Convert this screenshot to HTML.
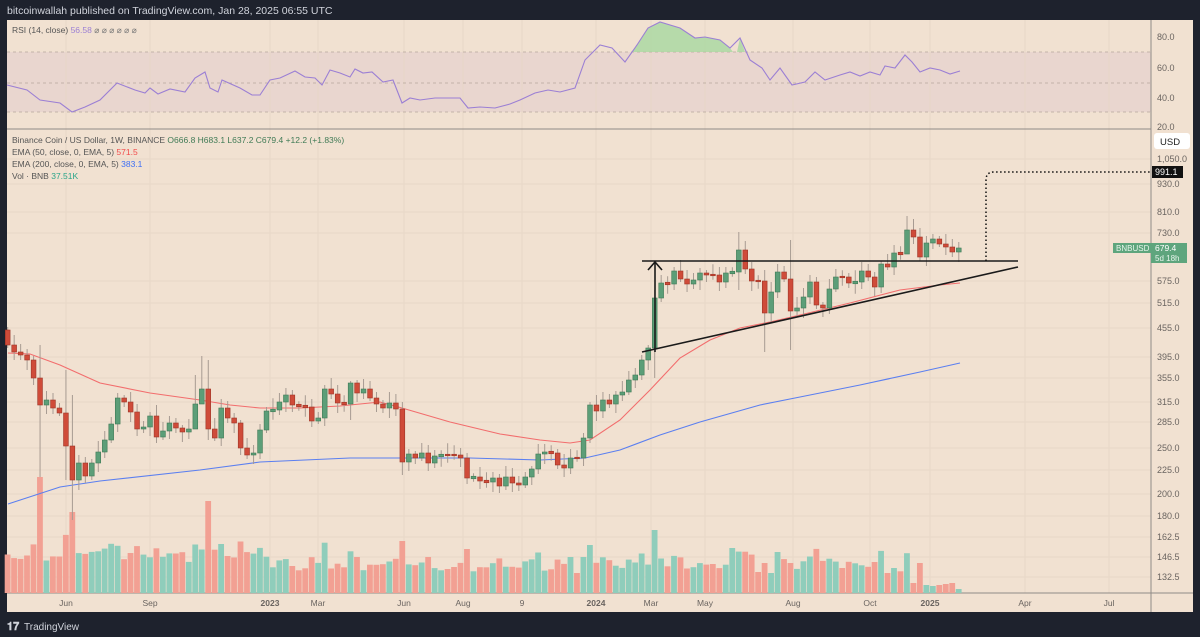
<!DOCTYPE html>
<html><head><meta charset="utf-8"><style>
body{margin:0;background:#1e222d;width:1200px;height:637px;overflow:hidden;font-family:"Liberation Sans",sans-serif}
svg{position:absolute;left:0;top:0}
</style></head><body>
<svg id="s" width="1200" height="637" xmlns="http://www.w3.org/2000/svg" font-family="Liberation Sans, sans-serif">
<rect x="0" y="0" width="1200" height="637" fill="#1e222d"/>
<text x="7" y="14" fill="#d1d4dc" font-size="10.5">bitcoinwallah published on TradingView.com, Jan 28, 2025 06:55 UTC</text>
<rect x="7" y="20" width="1186" height="592" fill="#f1e1d1"/>
<rect x="7" y="52" width="1144" height="60" fill="#e9d6cf"/>
<g id="grid" stroke="#e8d7c7" stroke-width="1"></g>
<g stroke="#b5a79c" stroke-dasharray="3,3" stroke-width="0.8">
<line x1="7" y1="52" x2="1151" y2="52"/><line x1="7" y1="83" x2="1151" y2="83"/><line x1="7" y1="112" x2="1151" y2="112"/></g>
<path id="rsifill" fill="#a8d8a0" opacity="0.8"/>
<polyline id="rsi" fill="none" stroke="#9b7fd4" stroke-width="1.1"/>
<line x1="7" y1="129" x2="1151" y2="129" stroke="#8f8a86" stroke-width="1"/>
<line x1="1151" y1="20" x2="1151" y2="612" stroke="#8f8a86" stroke-width="1"/>
<line x1="7" y1="593" x2="1193" y2="593" stroke="#8f8a86" stroke-width="1"/>
<text x="12" y="33" font-size="8.5" fill="#555">RSI (14, close) <tspan fill="#9b7fd4">56.58</tspan> <tspan fill="#777">⌀ ⌀ ⌀ ⌀ ⌀ ⌀</tspan></text>
<g font-size="8.5" fill="#555">
<text x="12" y="143">Binance Coin / US Dollar, 1W, BINANCE <tspan fill="#3f7a55">O666.8 H683.1 L637.2 C679.4 +12.2 (+1.83%)</tspan></text>
<text x="12" y="155">EMA (50, close, 0, EMA, 5) <tspan fill="#f24b4b">571.5</tspan></text>
<text x="12" y="167">EMA (200, close, 0, EMA, 5) <tspan fill="#3d6ef5">383.1</tspan></text>
<text x="12" y="179">Vol · BNB <tspan fill="#2aa58a">37.51K</tspan></text>
</g>
<g id="vol"></g>
<polyline fill="none" stroke="#f26d6d" stroke-width="1.1" points="8,353 30,354 60,365 100,383 150,393 200,400 230,405 260,408 300,408 340,406 380,402 402,408 450,422 500,434 540,440 570,443 590,440 620,420 650,390 680,358 710,340 740,328 770,322 800,315 850,303 900,290 940,285 960,283"/>
<polyline fill="none" stroke="#5b7ff0" stroke-width="1.1" points="8,504 60,487 100,481 200,470 260,462 350,458 402,458 470,458 540,460 585,458 620,450 660,435 700,422 760,405 800,397 860,385 920,372 960,363"/>
<g id="candles"></g>
<g stroke="#1a1a1a" stroke-width="1.6" fill="none">
<line x1="642" y1="261" x2="1018" y2="261"/>
<line x1="642" y1="352" x2="1018" y2="267"/>
<line x1="655" y1="352" x2="655" y2="262"/>
<polyline points="648,270 655,262 662,270"/>
</g>
<path d="M986 261 V180 Q986 172 994 172 H1150" fill="none" stroke="#111" stroke-width="1.5" stroke-dasharray="1.5,2.5"/>
<g id="plabels" font-size="9" fill="#6a6460"></g>
<rect x="1154" y="133" width="36" height="16" rx="3" fill="#fff"/>
<text x="1160" y="145" font-size="9.5" fill="#222">USD</text>
<rect x="1152" y="166" width="31" height="12" fill="#111"/>
<text x="1155" y="175" font-size="9" fill="#fff">991.1</text>
<rect x="1113" y="243" width="38" height="10" fill="#5ea57d"/>
<text x="1116" y="251" font-size="8" fill="#e8f5ec">BNBUSD</text>
<rect x="1151" y="243" width="36" height="20" fill="#5ea57d"/>
<text x="1155" y="251" font-size="8.5" fill="#fff">679.4</text>
<text x="1155" y="261" font-size="8" fill="#e8f5ec">5d 18h</text>
<g id="xl" font-size="8.5" fill="#6a6460" text-anchor="middle"></g>
<text x="7" y="630" font-size="11" fill="#d1d4dc" font-weight="bold">𝟏𝟕</text>
<text x="24" y="630" font-size="10" fill="#d1d4dc">TradingView</text>
</svg>
<script>
(function(){
var NS="http://www.w3.org/2000/svg";
function el(p,t,a,txt){var e=document.createElementNS(NS,t);for(var k in a)e.setAttribute(k,a[k]);if(txt)e.textContent=txt;document.getElementById(p).appendChild(e);return e;}
var closes=[345,352,355,360,378,405,400,408,413,446,480,463,476,463,452,440,424,398,402,412,429,427,416,437,431,423,428,432,429,404,389,429,438,408,418,423,448,455,453,430,411,410,402,395,405,406,407,421,418,389,394,403,404,383,393,389,398,404,408,403,409,462,454,458,453,463,456,455,455,455,458,478,477,481,482,478,486,477,483,485,477,469,454,452,453,465,468,458,458,438,405,411,400,404,395,392,380,375,360,348,298,283,284,271,279,284,280,273,275,275,282,273,272,250,269,281,281,313,292,272,279,311,308,297,282,305,308,289,277,277,283,282,271,277,287,264,267,253,254,230,237,257,243,239,244,247,252,248];
var wo={5:[345,477],10:[395,520],9:[370,480],30:[356,400],31:[360,440],29:[375,415],53:[381,420],61:[402,475],100:[290,378],117:[270,352],121:[240,350],139:[216,240],113:[232,290]};
var vo={5:116,10:81,31:92,61:52,90:48,100:63,117:30,118:20,112:45,121:30,136:20,137:25,147:4,146:10,145:9,144:8,143:7,142:8,141:30};
var prev=330;
for(var i=0;i<closes.length;i++){
 var x=7.7+6.47*i,o=prev,c=closes[i];prev=c;
 var up=c<o, ty=Math.min(o,c), by=Math.max(o,c);
 if(by-ty<1.5){ty-=0.75;by+=0.75;}
 var wt=ty-3-(i*7%9), wb=by+3+(i*5%8);
 if(wo[i]){wt=wo[i][0];wb=wo[i][1];}
 el("candles","line",{x1:x,y1:wt,x2:x,y2:wb,stroke:"#a79b92","stroke-width":1});
 el("candles","rect",{x:x-2.4,y:ty,width:4.8,height:by-ty,fill:up?"#5c9e78":"#cf4b39",stroke:up?"#3f7a55":"#9e3527","stroke-width":0.6});
 var h=20+Math.min(40,Math.abs(c-o)*0.7)+(i*13%11);
 if(i<40)h+=8;
 if(vo[i]!==undefined)h=vo[i];
 else if(i>=140)h=10;
 el("vol","rect",{x:x-3,y:593-h,width:5.8,height:h,fill:up?"#8fcdbb":"#f2a093"});
}
var vx=[66,150,270,318,404,463,522,596,651,705,793,870,930,1025,1109];
vx.forEach(function(x){el("grid","line",{x1:x,y1:20,x2:x,y2:593});});
var pl=[[1050,159],[930,184],[810,212],[730,233],[575,281],[515,303],[455,328],[395,357],[355,378],[315,402],[285,422],[250,448],[225,470],[200,494],[180,516],[162.5,537],[146.5,557],[132.5,577]];
pl.forEach(function(p){el("grid","line",{x1:7,y1:p[1],x2:1151,y2:p[1]});
 el("plabels","text",{x:1157,y:p[1]+3},(p[0]>=1000?"1,050.0":p[0].toFixed(1)));});
[[80,37],[60,68],[40,98],[20,127]].forEach(function(p){el("plabels","text",{x:1157,y:p[1]+3},p[0].toFixed(1));});
var xl=[["Jun",66],["Sep",150],["2023",270,1],["Mar",318],["Jun",404],["Aug",463],["9",522],["2024",596,1],["Mar",651],["May",705],["Aug",793],["Oct",870],["2025",930,1],["Apr",1025],["Jul",1109]];
xl.forEach(function(l){var t=el("xl","text",{x:l[1],y:606},l[0]);if(l[2])t.setAttribute("font-weight","bold");});
var r="7,85 27,90 40,100 60,103 72,112 85,107 100,100 117,83 135,90 145,93 150,88 158,94 170,89 185,92 195,78 205,72 210,88 218,92 222,80 240,88 252,95 260,95 270,80 280,78 295,71 305,77 315,78 322,85 330,70 340,73 350,77 355,69 363,73 372,72 383,82 393,80 402,103 410,98 420,100 435,98 460,98 468,108 480,107 495,108 510,104 520,100 535,93 548,90 560,92 575,88 585,60 600,45 612,48 625,62 637,45 648,28 660,22 680,28 695,38 705,37 720,40 730,48 740,38 750,60 762,68 770,80 780,68 792,85 805,82 815,72 825,80 840,75 850,72 860,76 870,72 880,75 885,66 895,68 905,55 912,62 920,72 930,68 940,70 950,74 960,71";
document.getElementById("rsi").setAttribute("points",r);
document.getElementById("rsifill").setAttribute("d","M632,52 L637,45 648,28 660,22 680,28 695,38 705,37 720,40 730,48 733,52 Z M737,52 L740,38 745,52 Z");
})();
</script>
</body></html>
